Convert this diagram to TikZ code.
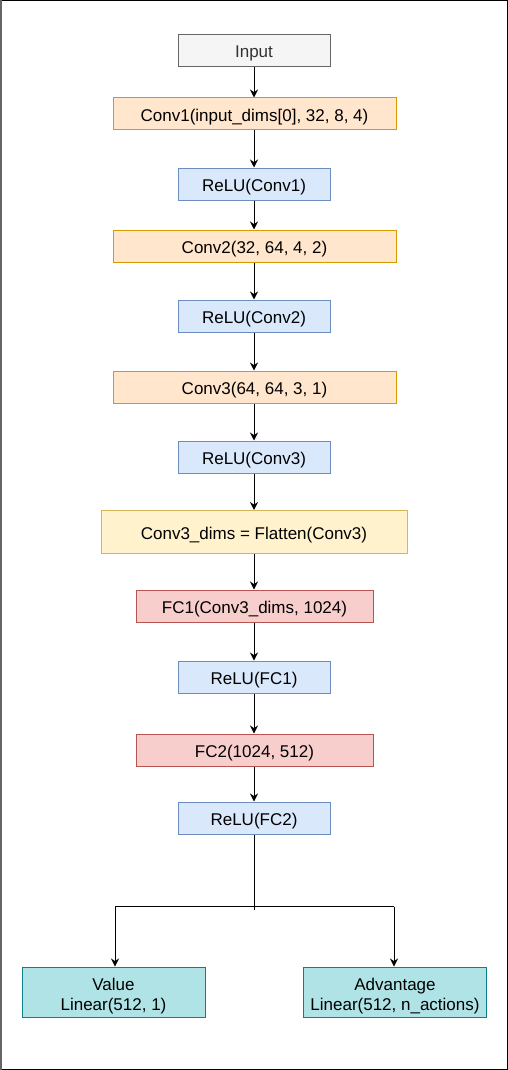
\documentclass[tikz,border=0pt]{standalone}
\usepackage{fontspec}
\setmainfont{Liberation Sans}
\usetikzlibrary{arrows.meta}
\definecolor{grayfill}{HTML}{F5F5F5}
\definecolor{graydraw}{HTML}{666666}
\definecolor{graytext}{HTML}{333333}
\definecolor{orfill}{HTML}{FFE6CC}
\definecolor{ordraw}{HTML}{D79B00}
\definecolor{blfill}{HTML}{DAE8FC}
\definecolor{bldraw}{HTML}{6C8EBF}
\definecolor{yefill}{HTML}{FFF2CC}
\definecolor{yedraw}{HTML}{D6B656}
\definecolor{rdfill}{HTML}{F8CECC}
\definecolor{rddraw}{HTML}{B85450}
\definecolor{tlfill}{HTML}{B0E3E6}
\definecolor{tldraw}{HTML}{0E8088}
\newcommand{\twolines}[2]{\raisebox{0pt}[12pt][16pt]{\begin{tabular}[t]{@{}c@{}}#1\\#2\end{tabular}}}
\tikzset{
  box/.style={rectangle, inner sep=0pt, line width=1pt, align=center,
    font=\fontsize{17}{20}\selectfont},
  onebox/.style={box, text height=15.5pt, text depth=1pt},
  inbox/.style={onebox, fill=grayfill, draw=graydraw, text=graytext, minimum width=152pt, minimum height=32pt},
  convbox/.style={onebox, fill=orfill, draw=ordraw, minimum width=283pt, minimum height=32pt},
  relubox/.style={onebox, fill=blfill, draw=bldraw, minimum width=152pt, minimum height=32pt},
  flatbox/.style={onebox, fill=yefill, draw=yedraw, minimum width=306pt, minimum height=43pt},
  fcbox/.style={onebox, fill=rdfill, draw=rddraw, minimum width=237pt, minimum height=32pt},
  headbox/.style={box, fill=tlfill, draw=tldraw, minimum width=183pt, minimum height=50pt},
  arr/.style={-{Stealth[length=8pt,width=8pt]}, line width=1pt, black},
  ln/.style={line width=1pt, black}
}
\begin{document}
\begin{tikzpicture}[x=1pt,y=-1pt]
\useasboundingbox (0,0) rectangle (508,1070);
\draw[line width=1.5pt, black] (0,0.75) -- (507.25,0.75) -- (507.25,1069.25) -- (0,1069.25);
\draw[line width=2pt, graydraw] (1,0) -- (1,1070);

\node[inbox]   (in)  at (254,50.5) {Input};
\node[convbox] (c1)  at (254.5,114) {Conv1(input\_dims[0], 32, 8, 4)};
\node[relubox] (r1)  at (254,184) {ReLU(Conv1)};
\node[convbox] (c2)  at (254.5,246) {Conv2(32, 64, 4, 2)};
\node[relubox] (r2)  at (254,316) {ReLU(Conv2)};
\node[convbox] (c3)  at (254.5,387) {Conv3(64, 64, 3, 1)};
\node[relubox] (r3)  at (254,457) {ReLU(Conv3)};
\node[flatbox] (fl)  at (254,532) {Conv3\_dims = Flatten(Conv3)};
\node[fcbox]   (f1)  at (254.5,606) {FC1(Conv3\_dims, 1024)};
\node[relubox] (rf1) at (254,677) {ReLU(FC1)};
\node[fcbox]   (f2)  at (254.5,750) {FC2(1024, 512)};
\node[relubox] (rf2) at (254,818) {ReLU(FC2)};
\node[headbox] (val) at (113.5,992) {\twolines{Value}{Linear(512, 1)}};
\node[headbox] (adv) at (395,992) {\twolines{Advantage}{Linear(512, n\_actions)}};

\coordinate (stem) at (254,910);
\coordinate (bl) at (115,906.5);
\coordinate (br) at (394,906.5);

\draw[arr] (in.south) -- (c1.north -| in.south);
\draw[arr] (c1.south -| r1.north) -- (r1.north);
\draw[arr] (r1.south) -- (c2.north -| r1.south);
\draw[arr] (c2.south -| r2.north) -- (r2.north);
\draw[arr] (r2.south) -- (c3.north -| r2.south);
\draw[arr] (c3.south -| r3.north) -- (r3.north);
\draw[arr] (r3.south) -- (fl.north);
\draw[arr] (fl.south) -- (f1.north -| fl.south);
\draw[arr] (f1.south -| rf1.north) -- (rf1.north);
\draw[arr] (rf1.south) -- (f2.north -| rf1.south);
\draw[arr] (f2.south -| rf2.north) -- (rf2.north);
\draw[ln] (rf2.south) -- (stem);
\draw[ln] (bl) -- (br);
\draw[arr] (bl) -- (val.north -| bl);
\draw[arr] (br) -- (adv.north -| br);
\end{tikzpicture}
\end{document}
